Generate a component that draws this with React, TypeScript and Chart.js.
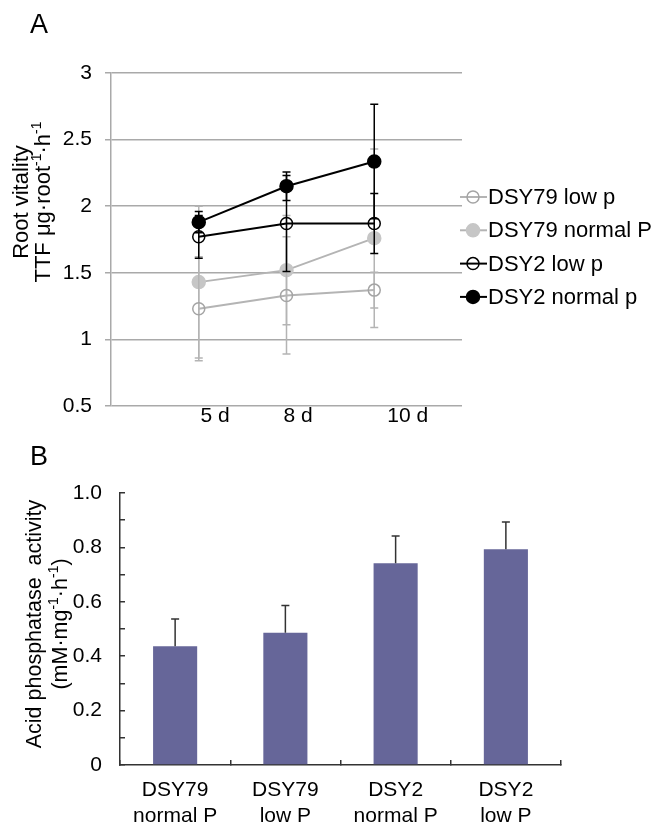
import React, { useEffect, useRef } from 'react';
import { Chart, registerables } from 'chart.js';

Chart.register(...registerables);

const FONT = '"Liberation Sans", Arial, Helvetica, sans-serif';

// ---------- Panel A data ----------
const DAYS = ['5 d', '8 d', '10 d'];
const SERIES_NAMES = ['DSY79 low p', 'DSY79 normal P', 'DSY2 low p', 'DSY2 normal p'];
const DSY79_LOW = [1.23, 1.33, 1.37];
const DSY79_LOW_ERR = [0.39, 0.44, 0.135];
const DSY79_NORMAL = [1.43, 1.52, 1.76];
const DSY79_NORMAL_ERR = [0.57, 0.41, 0.67];
const DSY2_LOW = [1.77, 1.87, 1.87];
const DSY2_LOW_ERR = [0.16, 0.36, 0.225];
const DSY2_NORMAL = [1.88, 2.15, 2.335];
const DSY2_NORMAL_ERR = [0.08, 0.107, 0.43];
const A_Y_MIN = 0.5;
const A_Y_MAX = 3;
const A_Y_STEP = 0.5;

// ---------- Panel B data ----------
const GROUP_LABELS = [
  ['DSY79', 'normal P'],
  ['DSY79', 'low P'],
  ['DSY2', 'normal P'],
  ['DSY2', 'low P'],
];
const ACP = [0.437, 0.486, 0.742, 0.793];
const ACP_ERR = [0.1, 0.1, 0.1, 0.1];
const B_Y_MIN = 0;
const B_Y_MAX = 1;
const B_Y_STEP = 0.1;

// ---------- styles ----------
const A_VALUES = [DSY79_LOW, DSY79_NORMAL, DSY2_LOW, DSY2_NORMAL];
const A_ERRS = [DSY79_LOW_ERR, DSY79_NORMAL_ERR, DSY2_LOW_ERR, DSY2_NORMAL_ERR];
const A_STYLE = [
  { line: '#b4b4b4', fill: 'rgba(0,0,0,0)', stroke: '#a4a4a4', r: 6, err: '#b4b4b4' },
  { line: '#b4b4b4', fill: '#c6c6c6', stroke: '#c6c6c6', r: 6.5, err: '#b4b4b4' },
  { line: '#000000', fill: 'rgba(0,0,0,0)', stroke: '#000000', r: 6, err: '#000000' },
  { line: '#000000', fill: '#000000', stroke: '#000000', r: 6.5, err: '#000000' },
];
const A_LABEL_SHIFT = [0.185, 0.131, 0.381];
const GRID_A = '#a9a9a9';
const BAR_COLOR = '#666699';
const AXIS_B = '#333333';

type Part = { t: string; sup?: boolean };

function drawVerticalRich(
  ctx: CanvasRenderingContext2D,
  parts: Part[],
  baseX: number,
  cy: number,
  size: number
) {
  const supSize = Math.round(size * 0.64);
  ctx.save();
  ctx.translate(baseX, cy);
  ctx.rotate(-Math.PI / 2);
  ctx.textBaseline = 'alphabetic';
  ctx.textAlign = 'left';
  ctx.fillStyle = '#000';
  let total = 0;
  const widths = parts.map((p) => {
    ctx.font = `${p.sup ? supSize : size}px ${FONT}`;
    const w = ctx.measureText(p.t).width;
    total += w;
    return w;
  });
  let x = -total / 2;
  parts.forEach((p, i) => {
    ctx.font = `${p.sup ? supSize : size}px ${FONT}`;
    ctx.fillText(p.t, x, p.sup ? -size * 0.4 : 0);
    x += widths[i];
  });
  ctx.restore();
}

function ChartA() {
  const ref = useRef<HTMLCanvasElement | null>(null);
  useEffect(() => {
    if (!ref.current) return;
    const datasets = SERIES_NAMES.map((name, k) => ({
      label: name,
      data: A_VALUES[k].map((v, i) => ({ x: i + 1, y: v })),
      borderColor: A_STYLE[k].line,
      backgroundColor: A_STYLE[k].fill,
      borderWidth: 2,
      pointRadius: A_STYLE[k].r,
      pointHoverRadius: A_STYLE[k].r,
      pointBackgroundColor: A_STYLE[k].fill,
      pointBorderColor: A_STYLE[k].stroke,
      pointBorderWidth: 1.5,
      tension: 0,
      order: k < 2 ? 1 : 0,
    }));

    const errPlugin = {
      id: 'errA',
      beforeDatasetDraw(chart: any, args: any) {
        const k = args.index;
        const errs = A_ERRS[k];
        const vals = A_VALUES[k];
        const ys = chart.scales.y;
        const ctx = chart.ctx as CanvasRenderingContext2D;
        ctx.save();
        ctx.strokeStyle = A_STYLE[k].err;
        ctx.lineWidth = 1.5;
        args.meta.data.forEach((pt: any, i: number) => {
          const x = pt.x;
          const yt = ys.getPixelForValue(vals[i] + errs[i]);
          const yb = ys.getPixelForValue(vals[i] - errs[i]);
          ctx.beginPath();
          ctx.moveTo(x, yt);
          ctx.lineTo(x, yb);
          ctx.moveTo(x - 4, yt);
          ctx.lineTo(x + 4, yt);
          ctx.moveTo(x - 4, yb);
          ctx.lineTo(x + 4, yb);
          ctx.stroke();
        });
        ctx.restore();
      },
    };

    const decorPlugin = {
      id: 'decorA',
      afterDraw(chart: any) {
        const ctx = chart.ctx as CanvasRenderingContext2D;
        const area = chart.chartArea;
        // panel letter
        ctx.save();
        ctx.fillStyle = '#000';
        ctx.font = `27px ${FONT}`;
        ctx.textBaseline = 'alphabetic';
        ctx.textAlign = 'left';
        ctx.fillText('A', 30, 33);
        ctx.restore();
        // axis title
        const cy = 202;
        drawVerticalRich(ctx, [{ t: 'Root vitality' }], 28, cy, 22);
        drawVerticalRich(
          ctx,
          [
            { t: 'TTF μg·root' },
            { t: '-1', sup: true },
            { t: '·h' },
            { t: '-1', sup: true },
          ],
          50,
          cy,
          22
        );
        // legend
        const lx = area.right - 2;
        SERIES_NAMES.forEach((name, k) => {
          const y = 197 + k * 33.3;
          const st = A_STYLE[k];
          ctx.save();
          ctx.strokeStyle = st.line;
          ctx.lineWidth = 2;
          ctx.beginPath();
          ctx.moveTo(lx, y);
          ctx.lineTo(lx + 27, y);
          ctx.stroke();
          ctx.beginPath();
          ctx.arc(lx + 13, y, st.r, 0, Math.PI * 2);
          ctx.fillStyle = st.fill;
          ctx.fill();
          ctx.lineWidth = 1.5;
          ctx.strokeStyle = st.stroke;
          ctx.stroke();
          ctx.fillStyle = '#000';
          ctx.font = `22px ${FONT}`;
          ctx.textBaseline = 'middle';
          ctx.textAlign = 'left';
          ctx.fillText(name, lx + 28, y + 1);
          ctx.restore();
        });
      },
    };

    const chart = new Chart(ref.current, {
      type: 'line',
      data: { datasets: datasets as any },
      options: {
        animation: false,
        responsive: false,
        events: [],
        layout: { padding: { top: 73, left: 0, right: 189, bottom: 0 } },
        plugins: { legend: { display: false }, tooltip: { enabled: false } },
        scales: {
          x: {
            type: 'linear',
            min: 0,
            max: DAYS.length + 1,
            grid: { display: false },
            border: { display: false },
            afterBuildTicks: (s: any) => {
              s.ticks = DAYS.map((_, i) => ({ value: i + 1 + A_LABEL_SHIFT[i] }));
            },
            afterFit: (s: any) => {
              s.height = 34;
            },
            ticks: {
              autoSkip: false,
              maxRotation: 0,
              padding: -10,
              color: '#000',
              font: { family: FONT, size: 21 },
              callback: (_v: any, i: number) => DAYS[i],
            },
          },
          y: {
            type: 'linear',
            min: A_Y_MIN,
            max: A_Y_MAX,
            afterFit: (s: any) => {
              s.width = 111;
            },
            grid: {
              color: GRID_A,
              lineWidth: 1.5,
              tickLength: 6,
              drawTicks: true,
            },
            border: { display: true, color: GRID_A, width: 1.5 },
            ticks: {
              stepSize: A_Y_STEP,
              padding: 13,
              color: '#000',
              font: { family: FONT, size: 21 },
              callback: (v: any) => String(Math.round(Number(v) * 10) / 10),
            },
          },
        },
      },
      plugins: [errPlugin, decorPlugin],
    });
    return () => chart.destroy();
  }, []);
  return (
    <canvas
      ref={ref}
      width={651}
      height={440}
      style={{ position: 'absolute', left: 0, top: 0, width: 651, height: 440 }}
    />
  );
}

function ChartB() {
  const ref = useRef<HTMLCanvasElement | null>(null);
  useEffect(() => {
    if (!ref.current) return;
    const errPlugin = {
      id: 'errB',
      afterDatasetsDraw(chart: any) {
        const ctx = chart.ctx as CanvasRenderingContext2D;
        const ys = chart.scales.y;
        const meta = chart.getDatasetMeta(0);
        ctx.save();
        ctx.strokeStyle = AXIS_B;
        ctx.lineWidth = 1.5;
        meta.data.forEach((bar: any, i: number) => {
          const x = bar.x;
          const y0 = ys.getPixelForValue(ACP[i]);
          const y1 = ys.getPixelForValue(ACP[i] + ACP_ERR[i]);
          ctx.beginPath();
          ctx.moveTo(x, y0);
          ctx.lineTo(x, y1);
          ctx.moveTo(x - 4, y1);
          ctx.lineTo(x + 4, y1);
          ctx.stroke();
        });
        ctx.restore();
      },
    };
    const decorPlugin = {
      id: 'decorB',
      afterDraw(chart: any) {
        const ctx = chart.ctx as CanvasRenderingContext2D;
        ctx.save();
        ctx.fillStyle = '#000';
        ctx.font = `27px ${FONT}`;
        ctx.textBaseline = 'alphabetic';
        ctx.textAlign = 'left';
        ctx.fillText('B', 30, 25);
        ctx.restore();
        const cy = 184;
        drawVerticalRich(ctx, [{ t: 'Acid phosphatase  activity' }], 40.5, cy, 21.5);
        drawVerticalRich(
          ctx,
          [
            { t: '(mM·mg' },
            { t: '-1', sup: true },
            { t: '·h' },
            { t: '-1', sup: true },
            { t: ')' },
          ],
          67,
          cy,
          21.5
        );
      },
    };
    const chart = new Chart(ref.current, {
      type: 'bar',
      data: {
        labels: GROUP_LABELS as any,
        datasets: [
          {
            label: 'Acid phosphatase activity',
            data: ACP,
            backgroundColor: BAR_COLOR,
            borderWidth: 0,
            categoryPercentage: 1,
            barPercentage: 0.4,
          },
        ],
      },
      options: {
        animation: false,
        responsive: false,
        events: [],
        layout: { padding: { top: 53, left: 0, right: 90, bottom: 0 } },
        plugins: { legend: { display: false }, tooltip: { enabled: false } },
        scales: {
          x: {
            type: 'category',
            afterFit: (s: any) => {
              s.height = 61;
            },
            grid: {
              display: true,
              drawOnChartArea: false,
              drawTicks: true,
              tickLength: -5,
              color: AXIS_B,
              lineWidth: 1.5,
              offset: true,
            },
            border: { display: true, color: AXIS_B, width: 1.5 },
            ticks: {
              autoSkip: false,
              maxRotation: 0,
              padding: 18,
              color: '#000',
              font: { family: FONT, size: 21 },
            },
          },
          y: {
            type: 'linear',
            min: B_Y_MIN,
            max: B_Y_MAX,
            afterFit: (s: any) => {
              s.width = 120;
            },
            grid: {
              display: true,
              drawOnChartArea: false,
              drawTicks: true,
              tickLength: -5,
              color: AXIS_B,
              lineWidth: 1.5,
            },
            border: { display: true, color: AXIS_B, width: 1.5 },
            ticks: {
              stepSize: B_Y_STEP,
              autoSkip: false,
              padding: 23,
              color: '#000',
              font: { family: FONT, size: 21 },
              callback: (v: any) => {
                const n = Math.round(Number(v) * 10);
                if (n % 2 !== 0) return '';
                return n === 0 ? '0' : (n / 10).toFixed(1);
              },
            },
          },
        },
      },
      plugins: [errPlugin, decorPlugin],
    });
    return () => chart.destroy();
  }, []);
  return (
    <canvas
      ref={ref}
      width={651}
      height={386}
      style={{ position: 'absolute', left: 0, top: 440, width: 651, height: 386 }}
    />
  );
}

export default function App() {
  return (
    <div
      style={{
        position: 'absolute',
        left: 0,
        top: 0,
        width: 651,
        height: 826,
        background: '#ffffff',
        overflow: 'hidden',
      }}
    >
      <ChartA />
      <ChartB />
    </div>
  );
}
